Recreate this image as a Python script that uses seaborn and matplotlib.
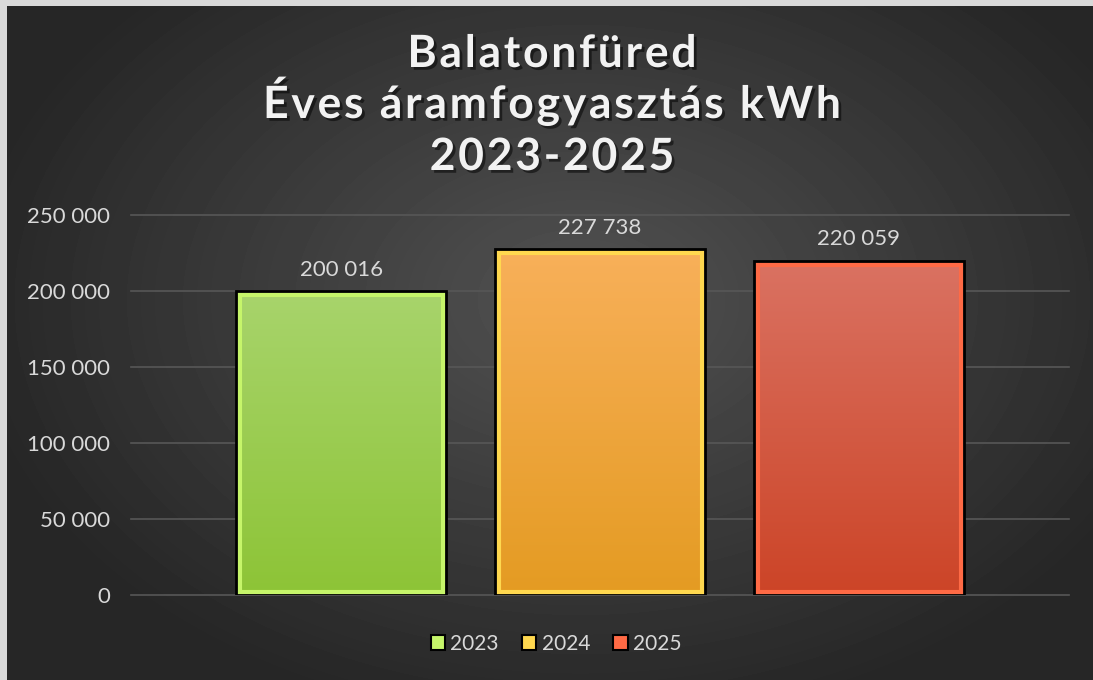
import numpy as np
import pandas as pd
import seaborn as sns
import matplotlib.pyplot as plt
from matplotlib import patheffects as pe
from matplotlib.colors import LinearSegmentedColormap
from matplotlib.font_manager import FontProperties, findfont, get_font
from matplotlib.patches import Patch, Rectangle, PathPatch
from matplotlib.path import Path
from matplotlib.textpath import TextPath
from matplotlib.transforms import IdentityTransform

years = ["2023", "2024", "2025"]
values = [200016, 227738, 220059]
top_colors = ["#a8d46c", "#f8b05a", "#da7262"]
bottom_colors = ["#8dc436", "#e49b22", "#cc4427"]
edge_colors = ["#c6f56a", "#ffd84f", "#ff6a45"]
title_lines = ["Balatonfüred", "Éves áramfogyasztás kWh", "2023-2025"]
yticks = [0, 50000, 100000, 150000, 200000, 250000]

plt.rcParams["font.family"] = ["Lato", "DejaVu Sans"]
txt_color = "#d9d9d9"

df = pd.DataFrame({"cat": [""] * 3, "year": years, "value": values})

fig = plt.figure(figsize=(10.93, 6.8), dpi=100, facecolor="#d9d9d9")

# radial background
bg = fig.add_axes([7 / 1093, 0, 1086 / 1093, 674 / 680], zorder=-5)
yy, xx = np.mgrid[0:674, 0:1086]
r = np.sqrt(((xx + 7 - 580) / 620) ** 2 + ((yy + 6 - 300) / 430) ** 2)
r = np.clip(r, 0, 1)
shade = (0x52 * (1 - r) + 0x26 * r) / 255
bg.imshow(shade, cmap="gray", vmin=0, vmax=1, aspect="auto", interpolation="bilinear")
bg.axis("off")

ax = fig.add_axes([131 / 1093, 85 / 680, 938 / 1093, 380 / 680])
ax.set_facecolor("none")
sns.barplot(data=df, x="cat", y="value", hue="year", palette=dict(zip(years, top_colors)),
            width=0.828, gap=0.19, legend=False, ax=ax)

bars = list(ax.patches)
for i, p in enumerate(bars):
    x0, w, h = p.get_x(), p.get_width(), p.get_height()
    cmap = LinearSegmentedColormap.from_list("g%d" % i, [bottom_colors[i], top_colors[i]])
    im = ax.imshow(np.linspace(0, 1, 256).reshape(-1, 1), cmap=cmap, origin="lower",
                   extent=[x0, x0 + w, 0, h], aspect="auto", zorder=2, interpolation="bilinear")
    im.set_clip_path(p)
    p.set_facecolor("none")
    p.set_edgecolor(edge_colors[i])
    p.set_linewidth(8)
    p.set_clip_path(p)
    p.set_zorder(3)
    ax.add_patch(Rectangle((x0, 0), w, h, fill=False, edgecolor="black", lw=2, zorder=4))
    ax.annotate(f"{values[i]:,}".replace(",", " "), (x0 + w / 2, h), xytext=(0, 11),
                textcoords="offset points", ha="center", va="baseline",
                color=txt_color, fontsize=16)

ax.set_xlim(-0.5, 0.5)
ax.set_ylim(0, 250000)
ax.set_yticks(yticks)
ax.set_yticklabels([f"{v:,}".replace(",", " ") for v in yticks])
ax.set_xticks([])
ax.set_xlabel("")
ax.set_ylabel("")
ax.tick_params(axis="y", length=0, pad=15, labelsize=16, labelcolor=txt_color)
ax.yaxis.grid(True, color="#575757", lw=1.2)
ax.set_axisbelow(True)
for gl in ax.get_ygridlines():
    gl.set_clip_on(False)
for s in ax.spines.values():
    s.set_visible(False)

# letter-spaced title
shadow = [pe.SimplePatchShadow(offset=(2, -2), shadow_rgbFace="black", alpha=0.5), pe.Normal()]
fp = FontProperties(family="Lato", weight="bold")
font = get_font(findfont(fp))
title_px = 44.5
track = 2.7
for line, base in zip(title_lines, [613, 562, 510]):
    font.set_size(title_px * 72 / 100, 100)
    adv = [font.load_char(ord(c)).linearHoriAdvance / 65536 for c in line]
    total = sum(adv) + track * (len(line) - 1)
    x = 552 - total / 2
    paths = []
    for c, a in zip(line, adv):
        if c != " ":
            paths.append(TextPath((x, base), c, size=title_px, prop=fp))
        x += a + track
    tp = PathPatch(Path.make_compound_path(*paths), facecolor="#f2f2f2", lw=0,
                   transform=IdentityTransform(), path_effects=shadow)
    fig.add_artist(tp)

handles = [Patch(facecolor=c, edgecolor="black", lw=1.5) for c in edge_colors]
fig.legend(handles, years, loc="center", bbox_to_anchor=(556 / 1093, 36 / 680), ncol=3,
           frameon=False, handlelength=0.7, handleheight=0.7, handletextpad=0.25,
           columnspacing=1.1, labelcolor=txt_color, fontsize=15)

fig.savefig("out.png", dpi=100, facecolor=fig.get_facecolor())
